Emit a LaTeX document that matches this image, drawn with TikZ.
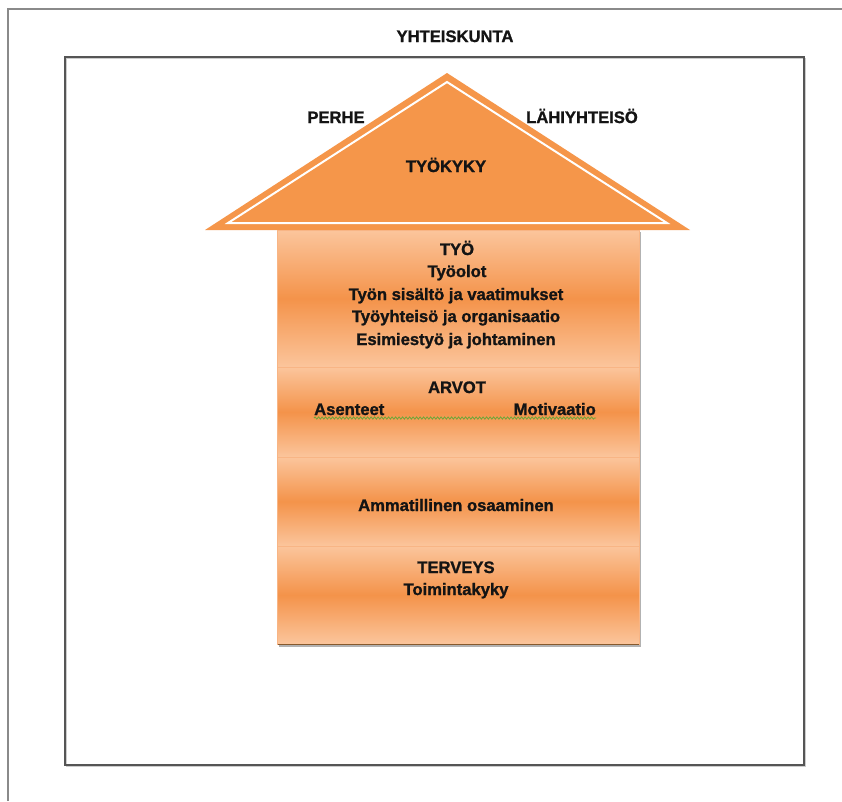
\documentclass[tikz,border=0pt]{standalone}
\usepackage{fontspec}
\setmainfont{Liberation Sans}[BoldFeatures={FakeBold=1.2}]
\usetikzlibrary{decorations.pathmorphing,calc}
\definecolor{roof}{HTML}{F5964A}
\definecolor{blight}{HTML}{FBC59C}
\definecolor{bdark}{HTML}{F4934A}
\definecolor{bline}{HTML}{F8B585}
\definecolor{frameg}{HTML}{8A8A8A}
\definecolor{boxg}{HTML}{555555}
\definecolor{squig}{HTML}{6AA637}
\tikzset{
  lbl/.style={font=\bfseries\fontsize{16.6}{19}\selectfont, text=black!92, inner sep=0pt, anchor=base},
  block/.style={top color=blight, bottom color=blight, middle color=bdark, draw=bline, line width=0.8pt},
}
\begin{document}
\begin{tikzpicture}[x=1pt,y=-1pt]
\useasboundingbox (0,0) rectangle (842,801);
\fill[white] (0,0) rectangle (842,801);
% outer frame (open right/bottom)
\draw[frameg, line width=2.4pt] (8,801) -- (8,9) -- (842,9);
% inner box with faint shadow
\draw[black!20, line width=1.2pt] (66.5,58.5) rectangle (805.5,766.5);
\draw[boxg, line width=1.4pt] (65,57) rectangle (804,765);
% roof
\fill[roof] (447,73) -- (690,230) -- (205,230) -- cycle;
\draw[white, line width=2pt, line join=miter] (447,82) -- (667,223) -- (228,223) -- cycle;
% body blocks
\fill[black!30] (279,232) rectangle (641,647);
\shade[block] (277,230) rectangle (639,367);
\shade[block] (277,367) rectangle (639,457);
\shade[block] (277,457) rectangle (639,546);
\shade[block] (277,546) rectangle (639,644);
\draw[black!30!brown, line width=1pt] (278,644.5) -- (639,644.5);
% labels
\node[lbl] (yht) at (455,42) {YHTEISKUNTA};
\node[lbl] (perhe) at (336,123) {PERHE};
\node[lbl] (lahi) at (582,123) {LÄHIYHTEISÖ};
\node[lbl] (tk) at (446,172) {TYÖKYKY};
\node[lbl] (tyo) at (457,255) {TYÖ};
\node[lbl] (tyo1) at (457,277) {Työolot};
\node[lbl] (tyo2) at (456,300) {Työn sisältö ja vaatimukset};
\node[lbl] (tyo3) at (456,322) {Työyhteisö ja organisaatio};
\node[lbl] (tyo4) at (456,345) {Esimiestyö ja johtaminen};
\node[lbl] (arvot) at (457,393) {ARVOT};
\node[lbl, anchor=base west] (asen) at (314,415) {Asenteet};
\node[lbl, anchor=base east] (moti) at (596,415) {Motivaatio};
\draw[squig, line width=0.8pt, decorate, decoration={snake, segment length=3.5pt, amplitude=1.1pt}]
  ($(asen.base west)+(0,3)$) -- ($(moti.base east)+(0,3)$);
\node[lbl] (amm) at (456,511) {Ammatillinen osaaminen};
\node[lbl] (terv) at (456,573) {TERVEYS};
\node[lbl] (toim) at (456,595) {Toimintakyky};
\end{tikzpicture}
\end{document}
